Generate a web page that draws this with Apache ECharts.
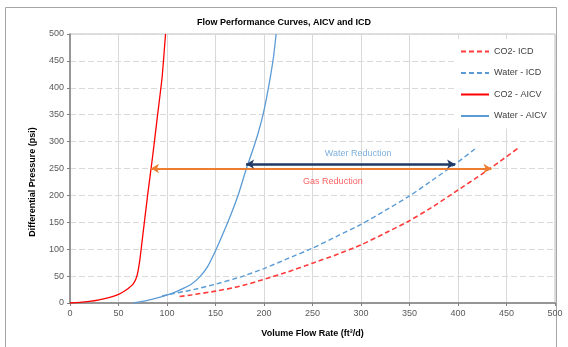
<!DOCTYPE html>
<html><head><meta charset="utf-8">
<script src="https://cdn.jsdelivr.net/npm/echarts@6/dist/echarts.min.js"></script>
<style>html,body{margin:0;padding:0;background:#fff}#c{width:568px;height:347px}</style>
</head><body><div id="c"></div>
<script>
// Data (flow ft3/d, differential pressure psi)
const co2ICD = [[113,12],[125,15],[150,22],[175,31],[200,44],[225,58],[250,74],[275,90],[300,108],[325,130],[350,153],[375,180],[400,210],[425,240],[450,272],[462,288]];
const waterICD = [[95,13],[100,15],[125,24],[150,35],[175,48],[200,64],[225,83],[250,102],[275,124],[300,146],[325,172],[350,199],[375,230],[400,262],[420,290]];
const co2AICV = [[0,0],[10,1],[20,3],[30,6],[40,10],[50,16],[55,21],[60,27],[65,35],[68,45],[70,58],[72,80],[75,125],[80,200],[85,270],[90,345],[95,420],[98.5,500]];
const waterAICV = [[65,0],[80,5],[93,11],[105,18],[113,24],[125,35],[134,49],[142,68],[150,97],[158,130],[166,165],[174,204],[182,251],[188,282],[194,316],[199,350],[203,385],[207,425],[210,460],[212.5,500]];
const waterReduction = {from:181.5, to:397, at:258, label:'Water Reduction', labelAt:[297,277]};
const gasReduction = {from:83.5, to:434.5, at:250, label:'Gas Reduction', labelAt:[271,225]};
const seriesNames = ['CO2- ICD','Water - ICD','CO2 - AICV','Water - AICV'];

const font = 'Liberation Sans, Arial, sans-serif';
const chart = echarts.init(document.getElementById('c'), null, {renderer:'canvas'});
function arrow(r, color, w){
  return {silent:true, symbol:['arrow','arrow'], symbolSize:[7,8], animation:false,
    label:{show:false}, lineStyle:{color:color, width:w, type:'solid'},
    data:[[{coord:[r.from,r.at]},{coord:[r.to,r.at]}]]};
}
chart.setOption({
  animation:false,
  backgroundColor:'#fff',
  title:{text:'Flow Performance Curves, AICV and ICD', left:'center', top:13,
    textStyle:{fontFamily:font, fontSize:9, fontWeight:'bold', color:'#000'}},
  grid:{left:70, right:13, top:34, bottom:44, show:true, borderColor:'#bfbfbf', borderWidth:1},
  legend:{data:seriesNames, orient:'vertical', left:454, top:39, itemWidth:28, itemHeight:10, itemGap:12.5,
    padding:[8,6,8,6], backgroundColor:'#fff', itemStyle:{opacity:0},
    textStyle:{fontFamily:font, fontSize:9, color:'#404040'}},
  xAxis:{type:'value', min:0, max:500, interval:50,
    name:'Volume Flow Rate (ft³/d)', nameLocation:'middle', nameGap:26,
    nameTextStyle:{fontFamily:font, fontSize:9, fontWeight:'bold', color:'#000'},
    axisLine:{show:true, lineStyle:{color:'#7f7f7f', width:1.5}},
    axisTick:{show:true, length:3, lineStyle:{color:'#7f7f7f'}},
    axisLabel:{fontFamily:font, fontSize:9, color:'#595959', margin:6},
    splitLine:{show:true, lineStyle:{color:'#d9d9d9', width:1}}},
  yAxis:{type:'value', min:0, max:500, interval:50,
    axisLine:{show:true, lineStyle:{color:'#7f7f7f', width:1.5}},
    axisTick:{show:true, length:3, lineStyle:{color:'#7f7f7f'}},
    axisLabel:{fontFamily:font, fontSize:9, color:'#595959', margin:6},
    splitLine:{show:true, lineStyle:{color:'#d9d9d9', width:1, type:[6,3]}}},
  graphic:[
    {type:'rect', shape:{x:5.5, y:7.5, width:551, height:350}, style:{fill:'none', stroke:'#a6a6a6', lineWidth:1}, z:-10},
    {type:'text', x:33, y:182, rotation:Math.PI/2,
     style:{text:'Differential Pressure (psi)', fontFamily:font, fontSize:9, fontWeight:'bold', fill:'#000', align:'center', verticalAlign:'middle'}}
  ],
  series:[
    {name:seriesNames[0], type:'line', data:co2ICD, symbol:'none', smooth:0.2, lineStyle:{color:'#FF3B3B', width:1.6, type:[5,3]}, itemStyle:{color:'#FF3B3B'}},
    {name:seriesNames[1], type:'line', data:waterICD, symbol:'none', smooth:0.2, lineStyle:{color:'#5B9BD5', width:1.4, type:[5,3]}, itemStyle:{color:'#5B9BD5'}},
    {name:seriesNames[2], type:'line', data:co2AICV, symbol:'none', smooth:0.15, lineStyle:{color:'#FF0000', width:1.3}, itemStyle:{color:'#FF0000'}},
    {name:seriesNames[3], type:'line', data:waterAICV, symbol:'none', smooth:0.2, lineStyle:{color:'#5B9BD5', width:1.3}, itemStyle:{color:'#5B9BD5'}},
    {name:'gasArrow', type:'line', data:[], markLine:arrow(gasReduction,'#ED7D31',2)},
    {name:'waterArrow', type:'line', data:[], markLine:arrow(waterReduction,'#203864',2.5)},
    {name:'labels', type:'scatter', symbolSize:0, silent:true,
     data:[
       {value:waterReduction.labelAt, label:{show:true, formatter:waterReduction.label, color:'#5B9BD5'}},
       {value:gasReduction.labelAt, label:{show:true, formatter:gasReduction.label, color:'#FF3B3B'}}
     ],
     label:{position:'inside', fontFamily:font, fontSize:9}}
  ]
});
</script></body></html>
